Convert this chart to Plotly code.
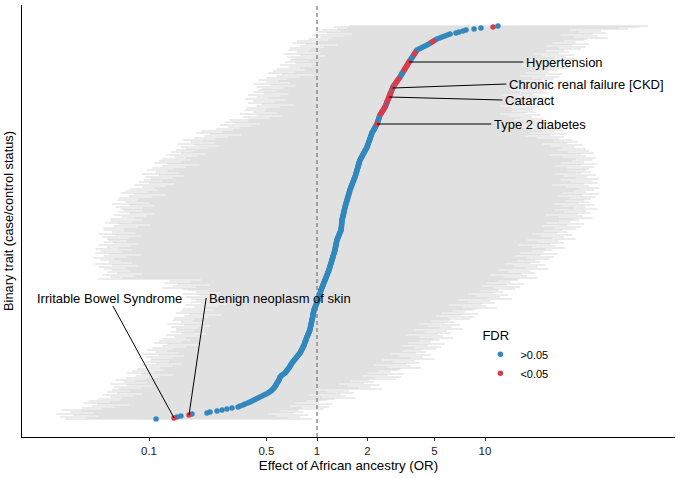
import math
import plotly.graph_objects as go

# ---------------- data ----------------
# log10(OR) per binary trait, sorted ascending (rank 1 = bottom)
log10_or = [
    -0.958, -0.851, -0.833, -0.810, -0.762, -0.744, -0.655, -0.637, -0.595, -0.565,  # 1-10
    -0.536, -0.506, -0.470, -0.458, -0.440, -0.429, -0.412, -0.399, -0.387, -0.375,  # 11-20
    -0.363, -0.351, -0.340, -0.327, -0.315, -0.303, -0.292, -0.283, -0.274, -0.268,  # 21-30
    -0.262, -0.256, -0.252, -0.248, -0.244, -0.241, -0.238, -0.234, -0.230, -0.226,  # 31-40
    -0.224, -0.222, -0.220, -0.214, -0.208, -0.199, -0.190, -0.186, -0.181, -0.177,  # 41-50
    -0.172, -0.167, -0.163, -0.160, -0.156, -0.153, -0.149, -0.144, -0.140, -0.135,  # 51-60
    -0.130, -0.125, -0.120, -0.116, -0.111, -0.106, -0.101, -0.098, -0.095, -0.092,  # 61-70
    -0.089, -0.086, -0.083, -0.080, -0.077, -0.075, -0.073, -0.071, -0.069, -0.066,  # 71-80
    -0.064, -0.062, -0.060, -0.057, -0.055, -0.052, -0.050, -0.047, -0.045, -0.042,  # 81-90
    -0.041, -0.040, -0.039, -0.037, -0.036, -0.035, -0.034, -0.032, -0.031, -0.030,  # 91-100
    -0.029, -0.027, -0.026, -0.025, -0.024, -0.023, -0.022, -0.020, -0.019, -0.018,  # 101-110
    -0.016, -0.013, -0.011, -0.008, -0.006, -0.004, -0.001, 0.001, 0.004, 0.006,     # 111-120
    0.008, 0.010, 0.011, 0.013, 0.015, 0.017, 0.019, 0.020, 0.022, 0.024,            # 121-130
    0.026, 0.029, 0.031, 0.034, 0.036, 0.038, 0.041, 0.043, 0.046, 0.048,            # 131-140
    0.050, 0.053, 0.055, 0.057, 0.060, 0.062, 0.064, 0.066, 0.069, 0.071,            # 141-150
    0.073, 0.075, 0.077, 0.078, 0.080, 0.082, 0.084, 0.086, 0.087, 0.089,            # 151-160
    0.091, 0.093, 0.095, 0.096, 0.098, 0.100, 0.102, 0.104, 0.105, 0.107,            # 161-170
    0.108, 0.109, 0.110, 0.112, 0.113, 0.114, 0.115, 0.116, 0.118, 0.119,            # 171-180
    0.121, 0.124, 0.126, 0.129, 0.131, 0.133, 0.136, 0.138, 0.141, 0.143,            # 181-190
    0.144, 0.144, 0.145, 0.146, 0.146, 0.147, 0.147, 0.148, 0.148, 0.149,            # 191-200
    0.150, 0.152, 0.153, 0.155, 0.156, 0.157, 0.159, 0.160, 0.162, 0.163,            # 201-210
    0.164, 0.166, 0.167, 0.169, 0.170, 0.172, 0.174, 0.176, 0.177, 0.179,            # 211-220
    0.181, 0.182, 0.184, 0.186, 0.188, 0.189, 0.191, 0.193, 0.194, 0.196,            # 221-230
    0.198, 0.201, 0.203, 0.205, 0.207, 0.210, 0.212, 0.214, 0.217, 0.219,            # 231-240
    0.221, 0.224, 0.226, 0.228, 0.230, 0.231, 0.233, 0.235, 0.237, 0.238,            # 241-250
    0.240, 0.242, 0.244, 0.245, 0.247, 0.249, 0.251, 0.252, 0.254, 0.256,            # 251-260
    0.259, 0.262, 0.266, 0.269, 0.272, 0.275, 0.279, 0.282, 0.285, 0.288,            # 261-270
    0.292, 0.295, 0.298, 0.300, 0.302, 0.304, 0.306, 0.308, 0.311, 0.313,            # 271-280
    0.315, 0.317, 0.319, 0.321, 0.323, 0.325, 0.327, 0.330, 0.334, 0.337,            # 281-290
    0.340, 0.344, 0.347, 0.350, 0.354, 0.357, 0.359, 0.361, 0.363, 0.365,            # 291-300
    0.367, 0.369, 0.371, 0.373, 0.375, 0.379, 0.383, 0.386, 0.390, 0.394,            # 301-310
    0.398, 0.401, 0.405, 0.407, 0.410, 0.412, 0.415, 0.417, 0.419, 0.422,            # 311-320
    0.424, 0.427, 0.429, 0.431, 0.434, 0.436, 0.438, 0.441, 0.443, 0.445,            # 321-330
    0.448, 0.450, 0.452, 0.456, 0.460, 0.465, 0.469, 0.473, 0.477, 0.481,            # 331-340
    0.486, 0.490, 0.494, 0.498, 0.501, 0.505, 0.508, 0.512, 0.516, 0.519,            # 341-350
    0.523, 0.526, 0.530, 0.534, 0.537, 0.541, 0.544, 0.548, 0.552, 0.556,            # 351-360
    0.560, 0.564, 0.568, 0.572, 0.575, 0.579, 0.583, 0.587, 0.591, 0.595,            # 361-370
    0.607, 0.619, 0.631, 0.643, 0.655, 0.665, 0.675, 0.685, 0.694, 0.704,            # 371-380
    0.714, 0.730, 0.745, 0.761, 0.776, 0.792, 0.827, 0.845, 0.869, 0.887,            # 381-390
    0.935, 0.976, 1.048, 1.077,                                                      # 391-394
]

# lower 95% CI bound, log10 scale (same order)
ci_lower_log10 = [
    -1.50, -1.37, -1.53, -1.30, -1.45, -1.55, -1.33, -1.47, -1.40, -1.52,
    -1.28, -1.40, -1.20, -1.34, -1.12, -1.31, -1.39, -1.23, -1.36, -1.17,
    -1.30, -1.16, -1.23, -1.09, -1.28, -1.04, -1.19, -1.25, -1.11, -1.22,
    -1.18, -1.05, -1.21, -0.98, -1.13, -1.23, -1.01, -1.15, -1.08, -1.20,
    -1.02, -1.14, -0.94, -1.08, -0.86, -1.05, -1.13, -0.97, -1.10, -0.91,
    -1.07, -0.93, -1.00, -0.86, -1.05, -0.81, -0.96, -1.02, -0.88, -0.99,
    -0.99, -0.86, -1.02, -0.79, -0.94, -1.04, -0.82, -0.96, -0.89, -1.01,
    -0.86, -0.98, -0.78, -0.92, -0.70, -0.89, -0.97, -0.81, -0.94, -0.75,
    -0.92, -0.78, -0.85, -0.71, -0.90, -0.66, -0.81, -0.87, -0.73, -0.84,
    -0.84, -0.71, -0.87, -0.64, -0.79, -0.89, -0.67, -0.81, -0.74, -0.86,
    -0.73, -0.85, -0.65, -0.79, -0.57, -0.76, -0.84, -0.68, -0.81, -0.62,
    -0.80, -0.66, -0.73, -0.59, -0.78, -0.54, -0.69, -0.75, -0.61, -0.72,
    -0.75, -0.62, -0.78, -0.55, -0.70, -0.80, -0.58, -0.72, -0.65, -0.77,
    -0.80, -0.92, -0.72, -0.86, -0.64, -0.83, -0.91, -0.75, -0.88, -0.69,
    -1.30, -1.16, -1.23, -1.09, -1.28, -1.04, -1.19, -1.25, -1.11, -1.22,
    -1.27, -1.14, -1.30, -1.07, -1.22, -1.32, -1.10, -1.24, -1.17, -1.29,
    -1.21, -1.33, -1.13, -1.27, -1.05, -1.24, -1.32, -1.16, -1.29, -1.10,
    -1.32, -1.18, -1.25, -1.11, -1.30, -1.06, -1.21, -1.27, -1.13, -1.24,
    -1.25, -1.12, -1.28, -1.05, -1.20, -1.30, -1.08, -1.22, -1.15, -1.27,
    -1.15, -1.27, -1.07, -1.21, -0.99, -1.18, -1.26, -1.10, -1.23, -1.04,
    -1.23, -1.09, -1.16, -1.02, -1.21, -0.97, -1.12, -1.18, -1.04, -1.15,
    -1.17, -1.04, -1.20, -0.97, -1.12, -1.22, -1.00, -1.14, -1.07, -1.19,
    -1.06, -1.18, -0.98, -1.12, -0.90, -1.09, -1.17, -1.01, -1.14, -0.95,
    -1.11, -0.97, -1.04, -0.90, -1.09, -0.85, -1.00, -1.06, -0.92, -1.03,
    -0.99, -0.86, -1.02, -0.79, -0.94, -1.04, -0.82, -0.96, -0.89, -1.01,
    -0.86, -0.98, -0.78, -0.92, -0.70, -0.89, -0.97, -0.81, -0.94, -0.75,
    -0.92, -0.78, -0.85, -0.71, -0.90, -0.66, -0.81, -0.87, -0.73, -0.84,
    -0.78, -0.65, -0.81, -0.58, -0.73, -0.83, -0.61, -0.75, -0.68, -0.80,
    -0.61, -0.73, -0.53, -0.67, -0.45, -0.64, -0.72, -0.56, -0.69, -0.50,
    -0.60, -0.46, -0.53, -0.39, -0.58, -0.34, -0.49, -0.55, -0.41, -0.52,
    -0.41, -0.28, -0.44, -0.21, -0.36, -0.46, -0.24, -0.38, -0.31, -0.43,
    -0.30, -0.42, -0.22, -0.36, -0.14, -0.33, -0.41, -0.25, -0.38, -0.19,
    -0.43, -0.29, -0.36, -0.22, -0.41, -0.17, -0.32, -0.38, -0.24, -0.35,
    -0.33, -0.20, -0.36, -0.13, -0.28, -0.38, -0.16, -0.30, -0.23, -0.35,
    -0.18, -0.30, -0.10, -0.24, -0.02, -0.21, -0.29, -0.13, -0.26, -0.07,
    -0.24, -0.10, -0.17, -0.03, -0.22, 0.02, -0.13, -0.19, -0.05, -0.16,
    -0.15, -0.02, -0.18, 0.05, -0.10, -0.20, 0.02, -0.12, -0.05, -0.17,
    -0.04, -0.16, 0.04, -0.10, 0.12, -0.07, -0.15, 0.01, -0.12, 0.07,
    -0.05, 0.09, 0.02, 0.16, -0.03, 0.21, 0.06, 0.00, 0.14, 0.03,
    0.12, 0.18, 0.10, 0.19,
]

# upper 95% CI bound, log10 scale (same order)
ci_upper_log10 = [
    -0.03, -0.17, -0.10, -0.24, -0.05, -0.29, -0.14, -0.08, -0.22, -0.11,
    0.04, -0.09, 0.07, -0.16, -0.01, 0.09, -0.13, 0.01, -0.06, 0.06,
    0.11, 0.23, 0.03, 0.17, -0.05, 0.14, 0.22, 0.06, 0.19, 0.00,
    0.39, 0.25, 0.32, 0.18, 0.37, 0.13, 0.28, 0.34, 0.20, 0.31,
    0.47, 0.34, 0.50, 0.27, 0.42, 0.52, 0.30, 0.44, 0.37, 0.49,
    0.50, 0.62, 0.42, 0.56, 0.34, 0.53, 0.61, 0.45, 0.58, 0.39,
    0.70, 0.56, 0.63, 0.49, 0.68, 0.44, 0.59, 0.65, 0.51, 0.62,
    0.71, 0.58, 0.74, 0.51, 0.66, 0.76, 0.54, 0.68, 0.61, 0.73,
    0.69, 0.81, 0.61, 0.75, 0.53, 0.72, 0.80, 0.64, 0.77, 0.58,
    0.87, 0.73, 0.80, 0.66, 0.85, 0.61, 0.76, 0.82, 0.68, 0.79,
    0.91, 0.78, 0.94, 0.71, 0.86, 0.96, 0.74, 0.88, 0.81, 0.93,
    0.95, 1.07, 0.87, 1.01, 0.79, 0.98, 1.06, 0.90, 1.03, 0.84,
    1.16, 1.02, 1.09, 0.95, 1.14, 0.90, 1.05, 1.11, 0.97, 1.08,
    1.18, 1.05, 1.21, 0.98, 1.13, 1.23, 1.01, 1.15, 1.08, 1.20,
    1.19, 1.31, 1.11, 1.25, 1.03, 1.22, 1.30, 1.14, 1.27, 1.08,
    1.38, 1.24, 1.31, 1.17, 1.36, 1.12, 1.27, 1.33, 1.19, 1.30,
    1.38, 1.25, 1.41, 1.18, 1.33, 1.43, 1.21, 1.35, 1.28, 1.40,
    1.36, 1.48, 1.28, 1.42, 1.20, 1.39, 1.47, 1.31, 1.44, 1.25,
    1.54, 1.40, 1.47, 1.33, 1.52, 1.28, 1.43, 1.49, 1.35, 1.46,
    1.54, 1.41, 1.57, 1.34, 1.49, 1.59, 1.37, 1.51, 1.44, 1.56,
    1.52, 1.64, 1.44, 1.58, 1.36, 1.55, 1.63, 1.47, 1.60, 1.41,
    1.67, 1.53, 1.60, 1.46, 1.65, 1.41, 1.56, 1.62, 1.48, 1.59,
    1.63, 1.50, 1.66, 1.43, 1.58, 1.68, 1.46, 1.60, 1.53, 1.65,
    1.56, 1.68, 1.48, 1.62, 1.40, 1.59, 1.67, 1.51, 1.64, 1.45,
    1.68, 1.54, 1.61, 1.47, 1.66, 1.42, 1.57, 1.63, 1.49, 1.60,
    1.62, 1.49, 1.65, 1.42, 1.57, 1.67, 1.45, 1.59, 1.52, 1.64,
    1.54, 1.66, 1.46, 1.60, 1.38, 1.57, 1.65, 1.49, 1.62, 1.43,
    1.60, 1.46, 1.53, 1.39, 1.58, 1.34, 1.49, 1.55, 1.41, 1.52,
    1.44, 1.31, 1.47, 1.24, 1.39, 1.49, 1.27, 1.41, 1.34, 1.46,
    1.28, 1.40, 1.20, 1.34, 1.12, 1.31, 1.39, 1.23, 1.36, 1.17,
    1.35, 1.21, 1.28, 1.14, 1.33, 1.09, 1.24, 1.30, 1.16, 1.27,
    1.29, 1.16, 1.32, 1.09, 1.24, 1.34, 1.12, 1.26, 1.19, 1.31,
    1.26, 1.38, 1.18, 1.32, 1.10, 1.29, 1.37, 1.21, 1.34, 1.15,
    1.42, 1.28, 1.35, 1.21, 1.40, 1.16, 1.31, 1.37, 1.23, 1.34,
    1.41, 1.28, 1.44, 1.21, 1.36, 1.46, 1.24, 1.38, 1.31, 1.43,
    1.38, 1.50, 1.30, 1.44, 1.22, 1.41, 1.49, 1.33, 1.46, 1.27,
    1.55, 1.41, 1.48, 1.34, 1.53, 1.29, 1.44, 1.50, 1.36, 1.47,
    1.57, 1.44, 1.60, 1.37, 1.52, 1.62, 1.40, 1.54, 1.47, 1.59,
    1.61, 1.73, 1.53, 1.67, 1.45, 1.64, 1.72, 1.56, 1.69, 1.50,
    1.85, 1.80, 1.92, 1.97,
]

# ranks (1-based) of traits with FDR < 0.05
fdr_sig_ranks = [2, 5, 296, 306, 307, 308, 309, 310, 311, 312, 313,
                 318, 319, 320, 321, 322, 323, 324, 325, 326, 327, 332,
                 336, 337, 338, 339, 340, 341,
                 350, 351, 352, 353, 354, 355, 356, 357, 358,
                 366, 367, 378, 379, 393]

label_names = ["Hypertension", "Chronic renal failure [CKD]", "Cataract",
               "Type 2 diabetes", "Irritable Bowel Syndrome", "Benign neoplasm of skin"]
label_ranks = [358, 332, 323, 296, 2, 5]

x_tickvals = [0.1, 0.5, 1, 2, 5, 10]
x_ticktext = ["0.1", "0.5", "1", "2", "5", "10"]
legend_labels = [">0.05", "<0.05"]

# ---------------- layout positions for repelled labels ----------------
label_text_pos = [(17.0, 358, "left"), (13.5, 336, "left"), (12.8, 320, "left"),
                  (11.0, 296, "left"), (0.0578, 122, "center"), (0.220, 122, "left")]
segment_end = [(16.9, 358), (13.4, 336), (12.7, 320), (10.9, 296), (0.061, 114), (0.219, 122)]

BLUE = "#3288BD"
RED = "#D53E4F"
FONT = "Liberation Sans, Arial, Helvetica, sans-serif"

n = len(log10_or)
ranks = list(range(1, n + 1))
or_est = [10 ** v for v in log10_or]
sig = set(fdr_sig_ranks)

fig = go.Figure()

# CI segments
cx, cy = [], []
for r, lo, hi in zip(ranks, ci_lower_log10, ci_upper_log10):
    cx += [10 ** lo, 10 ** hi, None]
    cy += [r, r, None]
fig.add_trace(go.Scatter(x=cx, y=cy, mode="lines", line=dict(color="#D7D7D7", width=1.0),
                         hoverinfo="skip", showlegend=False))

Y0, Y1 = -17, 415
# reference line at OR = 1
fig.add_trace(go.Scatter(x=[1, 1], y=[Y0, Y1], mode="lines",
                         line=dict(color="#7F7F7F", width=1.3, dash="4px,3px"),
                         hoverinfo="skip", showlegend=False))

# points
bx = [o for r, o in zip(ranks, or_est) if r not in sig]
by = [r for r in ranks if r not in sig]
rx = [o for r, o in zip(ranks, or_est) if r in sig]
ry = [r for r in ranks if r in sig]
fig.add_trace(go.Scatter(x=bx, y=by, mode="markers", name=legend_labels[0],
                         marker=dict(color=BLUE, size=5.5, line=dict(width=0))))
fig.add_trace(go.Scatter(x=rx, y=ry, mode="markers", name=legend_labels[1],
                         marker=dict(color=RED, size=5.5, line=dict(width=0))))

# label segments + texts
for name, r, (tx, ty, anc), (sx, sy) in zip(label_names, label_ranks, label_text_pos, segment_end):
    fig.add_trace(go.Scatter(x=[or_est[r - 1], sx], y=[r, sy], mode="lines",
                             line=dict(color="black", width=1), hoverinfo="skip",
                             showlegend=False))
    fig.add_annotation(x=math.log10(tx), y=ty, xref="x", yref="y", text=name,
                       showarrow=False, xanchor=anc, yanchor="middle",
                       font=dict(family=FONT, size=13, color="black"))

fig.update_layout(
    width=682, height=478,
    margin=dict(l=22, r=7, t=5, b=41),
    paper_bgcolor="white", plot_bgcolor="white",
    font=dict(family=FONT, color="black"),
    legend=dict(x=0.702, y=0.264, xanchor="left", yanchor="top",
                title=dict(text="FDR", font=dict(size=13)),
                font=dict(size=11), itemwidth=30, tracegroupgap=0,
                bgcolor="rgba(0,0,0,0)"),
)
fig.update_xaxes(type="log", range=[-1.756, 2.131], tickvals=x_tickvals, ticktext=x_ticktext,
                 showline=True, linecolor="black", linewidth=1, ticks="outside",
                 ticklen=3, tickcolor="#333", tickfont=dict(size=11.5, color="#1a1a1a"),
                 showgrid=False, zeroline=False, automargin=False,
                 title=dict(text="Effect of African ancestry (OR)", font=dict(size=13.3),
                            standoff=4))
fig.update_yaxes(range=[Y0, Y1], showline=True, linecolor="black", linewidth=1,
                 showticklabels=False, ticks="", showgrid=False, zeroline=False,
                 automargin=False,
                 title=dict(text="Binary trait (case/control status)", font=dict(size=12.8),
                            standoff=4))

fig.write_html("out.html")
